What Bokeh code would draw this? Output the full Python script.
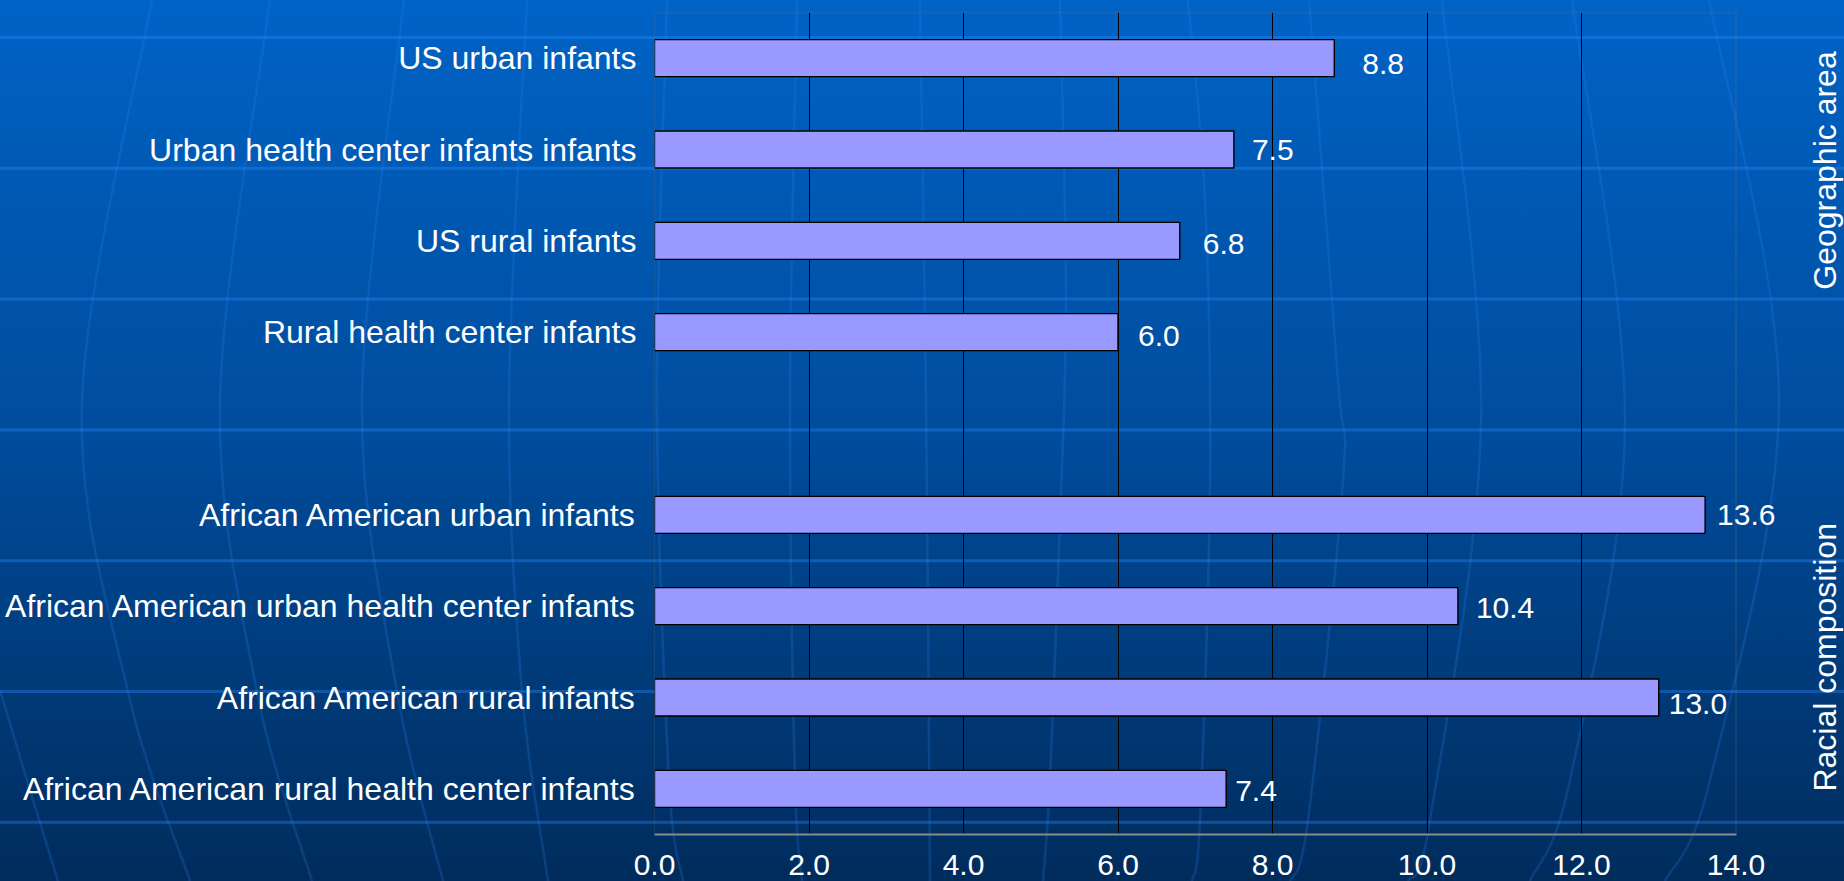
import math
from urllib.parse import quote

from bokeh.core.properties import value
from bokeh.embed import file_html
from bokeh.models import (BoxAnnotation, ColumnDataSource, FactorRange,
                          FixedTicker, NumeralTickFormatter)
from bokeh.plotting import figure
from bokeh.resources import INLINE

# ---------------------------------------------------------------- data
geo_categories = [
    "US urban infants",
    "Urban health center infants infants",
    "US rural infants",
    "Rural health center infants",
]
geo_values = [8.8, 7.5, 6.8, 6.0]

racial_categories = [
    "African American urban infants",
    "African American urban health center infants",
    "African American rural infants",
    "African American rural health center infants",
]
racial_values = [13.6, 10.4, 13.0, 7.4]

group_titles = ["Geographic area", "Racial composition"]
x_ticks = [0, 2, 4, 6, 8, 10, 12, 14]

# small per-label nudges (px) for the value labels, top bar first
label_dx = [28, 18, 23, 20, 12, 18, 10, 9]
label_dy = [6, 0, 3, 4, 0, 2, 6, 2]

# ---------------------------------------------------------------- layout
W, H = 1844, 881
FONT = "Liberation Sans"
WHITE = "#FFFFFF"
BORDER_L, BORDER_T, BORDER_B = 654, 12, 47
X_MAX = x_ticks[-1]
# the frame runs to the right edge of the canvas so the value labels and the
# rotated group titles beyond the 14.0 line stay visible
PX_PER_UNIT = 1081.5 / X_MAX
X_END = (W - BORDER_L) / PX_PER_UNIT

spacer = " "
factors = list(reversed(geo_categories + [spacer] + racial_categories))

cats = geo_categories + racial_categories
vals = geo_values + racial_values
source = ColumnDataSource(dict(
    cat=cats,
    val=vals,
    txt=[f"{v:.1f}" for v in vals],
    dx=label_dx,
    dy=label_dy,
))

p = figure(
    width=W, height=H,
    x_range=(0, X_END),
    y_range=FactorRange(factors=factors, range_padding=0),
    output_backend="svg",
    toolbar_location=None,
    min_border_left=BORDER_L, min_border_right=0,
    min_border_top=BORDER_T, min_border_bottom=BORDER_B,
)

p.background_fill_alpha = 0
p.border_fill_alpha = 0
p.outline_line_color = None

# grid: dark verticals only
p.xgrid.ticker = FixedTicker(ticks=x_ticks[1:-1])
p.xgrid.grid_line_color = "#000000"
p.xgrid.grid_line_width = 1
p.ygrid.grid_line_color = None

# bars
p.hbar(y="cat", left=0, right="val", height=0.405, source=source,
       fill_color="#9999FF", line_color="#000000", line_width=1.4)

# plot-area border from 0 to 14
p.add_layout(BoxAnnotation(left=0, right=X_MAX, fill_alpha=0,
                           line_color="#858585", line_width=1))

# value labels
p.text(x="val", y="cat", text="txt", source=source,
       x_offset="dx", y_offset="dy",
       text_align="left", text_baseline="middle",
       text_font=value(FONT), text_font_size="30px", text_color=WHITE)

# rotated group titles on the right
titles = ColumnDataSource(dict(t=group_titles, x=[15.155, 15.155], y=[7.27, 1.94]))
p.text(x="x", y="y", text="t", source=titles, angle=math.pi / 2,
       text_align="center", text_baseline="alphabetic",
       text_font=value(FONT), text_font_size="32px", text_color=WHITE)

# x axis
xa = p.xaxis[0]
xa.ticker = FixedTicker(ticks=x_ticks)
xa.bounds = (0, X_MAX)
xa.formatter = NumeralTickFormatter(format="0.0")
xa.axis_line_color = "#8C8C8C"
xa.axis_line_width = 2
xa.major_tick_line_color = None
xa.minor_tick_line_color = None
xa.major_label_standoff = 14
xa.major_label_text_font = FONT
xa.major_label_text_font_size = "30px"
xa.major_label_text_color = WHITE

# y axis (category names)
ya = p.yaxis[0]
ya.axis_line_color = None
ya.major_tick_line_color = None
ya.minor_tick_line_color = None
ya.major_label_standoff = 12
ya.major_label_text_font = FONT
ya.major_label_text_font_size = "32px"
ya.major_label_text_color = WHITE

# ---------------------------------------------------------------- backdrop
def smooth_path(pts):
    d = f"M{pts[0][0]},{pts[0][1]}"
    for i in range(len(pts) - 1):
        p0 = pts[i - 1] if i > 0 else pts[i]
        p1, p2 = pts[i], pts[i + 1]
        p3 = pts[i + 2] if i + 2 < len(pts) else p2
        c1 = (p1[0] + (p2[0] - p0[0]) / 6, p1[1] + (p2[1] - p0[1]) / 6)
        c2 = (p2[0] - (p3[0] - p1[0]) / 6, p2[1] - (p3[1] - p1[1]) / 6)
        d += f" C{c1[0]:.1f},{c1[1]:.1f} {c2[0]:.1f},{c2[1]:.1f} {p2[0]},{p2[1]}"
    return d


meridians = [
    [(152, 0), (82, 400), (128, 692), (190, 881)],
    [(270, 0), (220, 400), (257, 692), (312, 881)],
    [(404, 0), (362, 400), (397, 692), (443, 881)],
    [(527, 0), (509, 400), (522, 692), (548, 881)],
    [(667, 0), (657, 400), (669, 780), (683, 881)],
    [(797, 0), (790, 400), (795, 780), (802, 881)],
    [(920, 0), (926, 400), (930, 881)],
    [(1060, 0), (1066, 300), (1060, 520), (1050, 780), (1043, 881)],
    [(1188, 0), (1205, 200), (1210, 480), (1200, 820), (1192, 881)],
    [(1309, 0), (1338, 380), (1343, 480), (1308, 820), (1290, 881)],
    [(1442, 0), (1481, 420), (1430, 820), (1408, 881)],
    [(1572, 0), (1625, 420), (1570, 780), (1530, 881)],
    [(1709, 0), (1779, 400), (1710, 780), (1665, 881)],
    [(0, 690), (30, 790), (58, 881)],
]

svg = [f'<svg xmlns="http://www.w3.org/2000/svg" width="{W}" height="{H}" '
       f'viewBox="0 0 {W} {H}">',
       '<defs><linearGradient id="g" x1="0" y1="0" x2="0" y2="1">'
       '<stop offset="0" stop-color="#0063C6"/>'
       '<stop offset="0.5" stop-color="#004C9C"/>'
       '<stop offset="1" stop-color="#002C5C"/>'
       '</linearGradient></defs>',
       f'<rect width="{W}" height="{H}" fill="url(#g)"/>']
for m in meridians:
    svg.append(f'<path d="{smooth_path(m)}" fill="none" stroke="#2A85F0" '
               f'stroke-opacity="0.22" stroke-width="2.5"/>')
for k in range(7):
    yy = 37.5 + 130.8 * k
    svg.append(f'<line x1="0" y1="{yy:.1f}" x2="{W}" y2="{yy:.1f}" '
               f'stroke="#2A8CFF" stroke-opacity="0.36" stroke-width="3"/>')
svg.append("</svg>")

p.styles = {
    "background-image": f'url("data:image/svg+xml,{quote("".join(svg))}")',
    "background-size": "100% 100%",
    "background-repeat": "no-repeat",
}

open("out.html", "w").write(file_html(p, INLINE))
